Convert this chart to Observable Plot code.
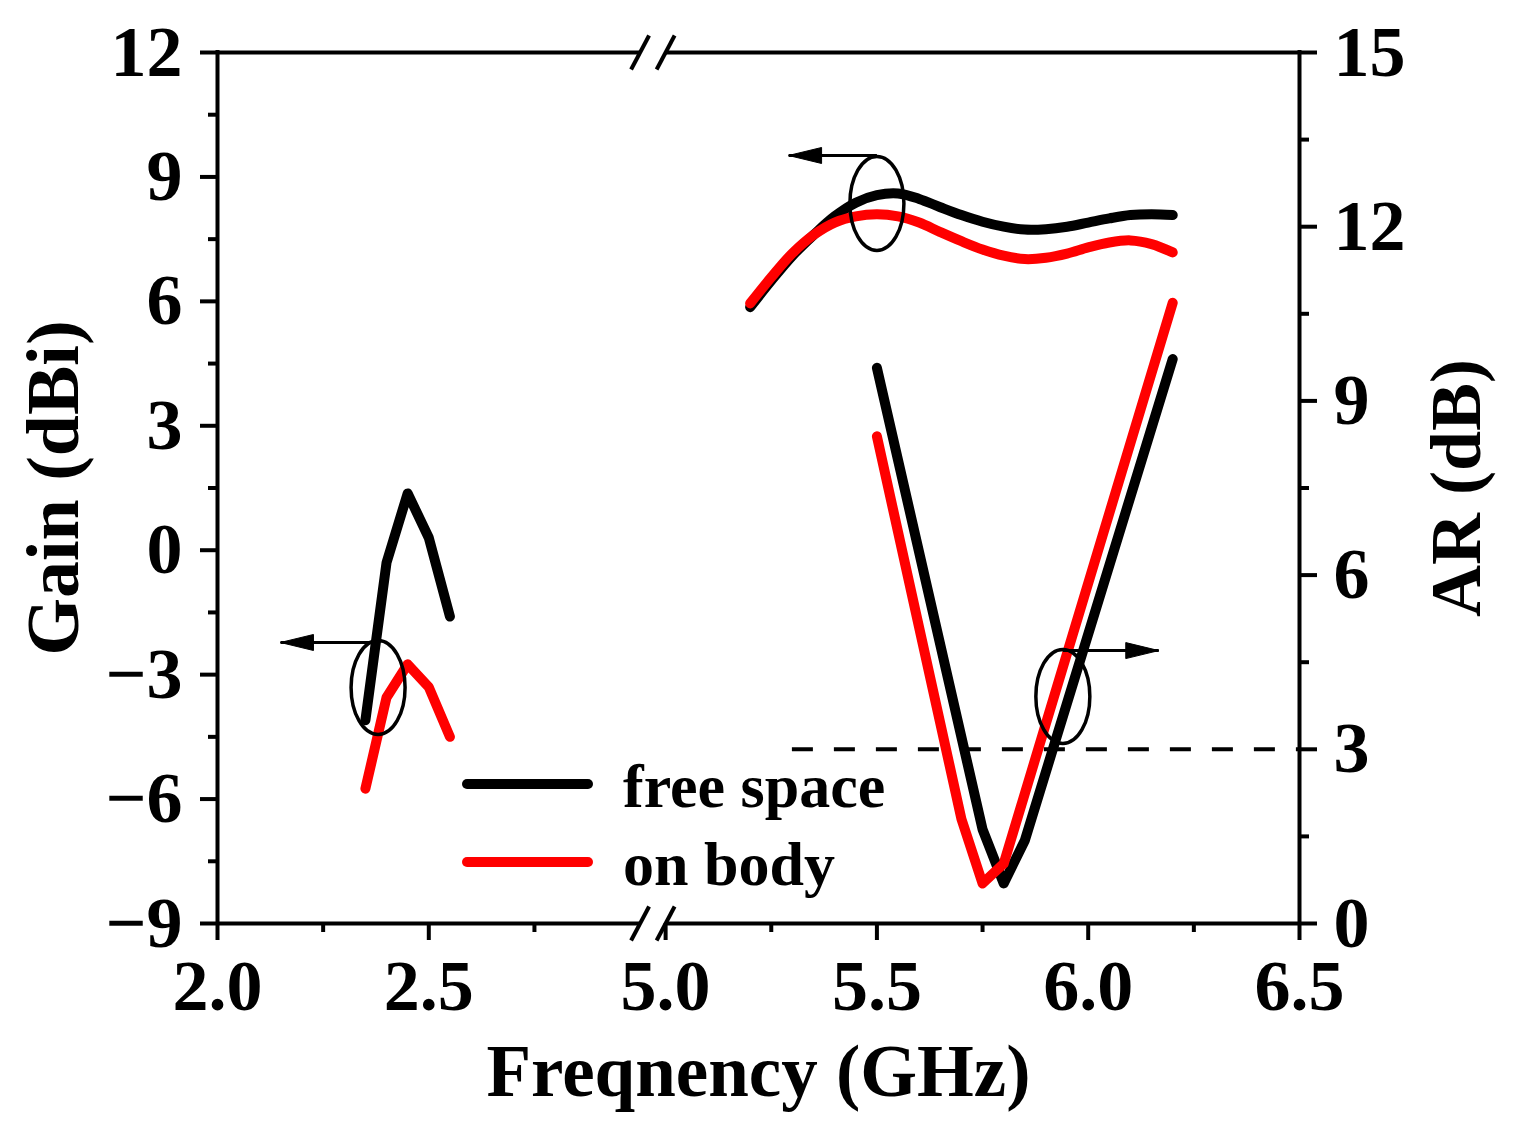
<!DOCTYPE html>
<html><head><meta charset="utf-8">
<script src="https://cdn.jsdelivr.net/npm/d3@7"></script>
<script src="https://cdn.jsdelivr.net/npm/@observablehq/plot@0.6"></script>
<style>
html,body{margin:0;padding:0;background:#fff;}
#chart{position:relative;width:1519px;height:1137px;}
</style></head><body><div id="chart"></div>
<script>
// ---- data ----
const seriesNames = ["free space", "on body"];
const seriesColors = ["#000000", "#ff0000"];

const freqLow = [2.35, 2.40, 2.45, 2.50, 2.55];
const gainFreeLow = [-4.1, -0.3, 1.37, 0.3, -1.6];
const gainBodyLow = [-5.75, -3.55, -2.75, -3.3, -4.5];

const freqHigh = [5.20, 5.25, 5.30, 5.35, 5.40, 5.45, 5.50, 5.55, 5.60, 5.65, 5.70, 5.75, 5.80, 5.85, 5.90, 5.95, 6.00, 6.05, 6.10, 6.15, 6.20];
const gainFreeHigh = [5.86, 6.5, 7.1, 7.6, 8.05, 8.38, 8.56, 8.6, 8.47, 8.27, 8.08, 7.92, 7.8, 7.73, 7.74, 7.8, 7.9, 8.0, 8.08, 8.1, 8.08];
const gainBodyHigh = [5.95, 6.58, 7.16, 7.6, 7.9, 8.05, 8.1, 8.05, 7.9, 7.67, 7.45, 7.25, 7.1, 7.02, 7.05, 7.15, 7.3, 7.42, 7.47, 7.38, 7.18];

const freqArFree = [5.50, 5.75, 5.80, 5.85, 6.20];
const arFree = [9.57, 1.62, 0.69, 1.43, 9.72];
const freqArBody = [5.50, 5.70, 5.75, 5.80, 6.20];
const arBody = [8.39, 1.80, 0.69, 1.03, 10.69];

const arThreshold = 3;
const thresholdFreq = [5.3, 6.5];

const xDomain = [2.0, 6.5];
const xBreak = [3.0, 5.0];
const xMajorTicks = [2.0, 2.5, 5.0, 5.5, 6.0, 6.5];
const xMinorTicks = [2.25, 2.75, 5.25, 5.75, 6.25];
const gainDomain = [-9, 12];
const gainMajorTicks = [-9, -6, -3, 0, 3, 6, 9, 12];
const gainMinorTicks = [-7.5, -4.5, -1.5, 1.5, 4.5, 7.5, 10.5];
const arDomain = [0, 15];
const arMajorTicks = [0, 3, 6, 9, 12, 15];
const arMinorTicks = [1.5, 4.5, 7.5, 10.5, 13.5];

// annotations (ellipse markers with arrows pointing to the relevant axis)
const ellipseFreq = [2.38, 5.50, 5.94];
const ellipseValue = [-3.31, 8.36, 3.91];
const ellipseAxis = ["gain", "gain", "ar"];
const arrowFromFreq = [2.38, 5.50, 5.94];
const arrowToFreq = [2.149, 5.291, 6.167];
const arrowValue = [-2.225, 9.517, 4.70];
const arrowAxis = ["gain", "gain", "ar"];

// ---- helpers ----
const breakGap = 0.0604; // visual gap between the two axis segments
const vx = f => f <= xBreak[0] + 1e-9 ? f : f - xBreak[1] + xBreak[0] + breakGap;
const ux = v => v <= xBreak[0] + 1e-9 ? v : v - xBreak[0] - breakGap + xBreak[1];
const arToGain = a => gainDomain[0] + (a - arDomain[0]) * (gainDomain[1] - gainDomain[0]) / (arDomain[1] - arDomain[0]);
const gainToAr = g => arDomain[0] + (g - gainDomain[0]) * (arDomain[1] - arDomain[0]) / (gainDomain[1] - gainDomain[0]);
const toY = (v, axis) => axis === "ar" ? arToGain(v) : v;
const fmtSigned = d => d < 0 ? "\u2212" + Math.abs(d) : String(d);

const lowFree = freqLow.map((f, i) => ({f, v: gainFreeLow[i]}));
const lowBody = freqLow.map((f, i) => ({f, v: gainBodyLow[i]}));
const highFree = freqHigh.map((f, i) => ({f, v: gainFreeHigh[i]}));
const highBody = freqHigh.map((f, i) => ({f, v: gainBodyHigh[i]}));
const arFreeData = freqArFree.map((f, i) => ({f, v: arToGain(arFree[i])}));
const arBodyData = freqArBody.map((f, i) => ({f, v: arToGain(arBody[i])}));

const ellipses = ellipseFreq.map((f, i) => ({f, v: toY(ellipseValue[i], ellipseAxis[i])}));
const arrows = arrowFromFreq.map((f, i) => ({f1: f, f2: arrowToFreq[i], v: toY(arrowValue[i], arrowAxis[i])}));

const xMin = vx(xDomain[0]), xMax = vx(xDomain[1]);
const frameH = [
  {y: gainDomain[0], x1: xMin, x2: vx(xBreak[0])},
  {y: gainDomain[0], x1: vx(xBreak[1]), x2: xMax},
  {y: gainDomain[1], x1: xMin, x2: vx(xBreak[0])},
  {y: gainDomain[1], x1: vx(xBreak[1]), x2: xMax}
];
const breakMarks = [];
for (const y of gainDomain) for (const b of xBreak) breakMarks.push({x: vx(b), y});

// custom symbols
const slashSymbol = {draw(ctx) { ctx.moveTo(-9, 17); ctx.lineTo(9, -17); }};
const ellipseSymbol = {draw(ctx) {
  const rx = 27, ry = 47, kx = rx * 0.5523, ky = ry * 0.5523;
  ctx.moveTo(rx, 0);
  ctx.bezierCurveTo(rx, ky, kx, ry, 0, ry);
  ctx.bezierCurveTo(-kx, ry, -rx, ky, -rx, 0);
  ctx.bezierCurveTo(-rx, -ky, -kx, -ry, 0, -ry);
  ctx.bezierCurveTo(kx, -ry, rx, -ky, rx, 0);
  ctx.closePath();
}};
const headRight = {draw(ctx) { ctx.moveTo(0, 0); ctx.lineTo(-33, -8); ctx.lineTo(-33, 8); ctx.closePath(); }};
const headLeft = {draw(ctx) { ctx.moveTo(0, 0); ctx.lineTo(33, -8); ctx.lineTo(33, 8); ctx.closePath(); }};

const font = '"Liberation Serif", "Times New Roman", serif';
const W = 1519, H = 1137;

const chart = Plot.plot({
  width: W, height: H,
  marginLeft: 217, marginRight: 220, marginTop: 52, marginBottom: 214,
  style: {fontFamily: font, fontWeight: "bold", fontSize: "72px", background: "white", color: "black", overflow: "visible"},
  x: {domain: [xMin, xMax]},
  y: {domain: gainDomain},
  marks: [
    // threshold line AR = 3 dB
    Plot.ruleY([arToGain(arThreshold)], {x1: vx(thresholdFreq[0]), x2: vx(thresholdFreq[1]), stroke: "black", strokeWidth: 4, strokeDasharray: "21,21"}),
    // data lines
    Plot.line(lowFree, {x: d => vx(d.f), y: "v", stroke: seriesColors[0], strokeWidth: 10, strokeLinecap: "round", strokeLinejoin: "round"}),
    Plot.line(highFree, {x: d => vx(d.f), y: "v", stroke: seriesColors[0], strokeWidth: 10, strokeLinecap: "round", strokeLinejoin: "round", curve: "catmull-rom"}),
    Plot.line(arFreeData, {x: d => vx(d.f), y: "v", stroke: seriesColors[0], strokeWidth: 10, strokeLinecap: "round", strokeLinejoin: "round"}),
    Plot.line(lowBody, {x: d => vx(d.f), y: "v", stroke: seriesColors[1], strokeWidth: 10, strokeLinecap: "round", strokeLinejoin: "round"}),
    Plot.line(highBody, {x: d => vx(d.f), y: "v", stroke: seriesColors[1], strokeWidth: 10, strokeLinecap: "round", strokeLinejoin: "round", curve: "catmull-rom"}),
    Plot.line(arBodyData, {x: d => vx(d.f), y: "v", stroke: seriesColors[1], strokeWidth: 10, strokeLinecap: "round", strokeLinejoin: "round"}),
    // annotations
    Plot.dot(ellipses, {x: d => vx(d.f), y: "v", symbol: ellipseSymbol, fill: "none", stroke: "black", strokeWidth: 3.5}),
    Plot.link(arrows, {x1: d => vx(d.f1), x2: d => vx(d.f2), y1: "v", y2: "v", stroke: "black", strokeWidth: 3}),
    Plot.dot(arrows.filter(d => d.f2 < d.f1), {x: d => vx(d.f2), y: "v", symbol: headLeft, fill: "black", stroke: "black", strokeWidth: 1}),
    Plot.dot(arrows.filter(d => d.f2 > d.f1), {x: d => vx(d.f2), y: "v", symbol: headRight, fill: "black", stroke: "black", strokeWidth: 1}),
    // frame
    Plot.ruleX([xMin, xMax], {stroke: "black", strokeWidth: 4, strokeLinecap: "square"}),
    Plot.ruleY(frameH, {y: "y", x1: "x1", x2: "x2", stroke: "black", strokeWidth: 4}),
    Plot.dot(breakMarks, {x: "x", y: "y", symbol: slashSymbol, fill: "none", stroke: "black", strokeWidth: 4}),
    // axes
    Plot.axisY({anchor: "left", ticks: gainMajorTicks, tickSize: 17, tickPadding: 18, tickFormat: fmtSigned, strokeWidth: 4, fontSize: 72, fontWeight: "bold", fontFamily: font, label: null}),
    Plot.axisY({anchor: "left", ticks: gainMinorTicks, tickSize: 9, tickFormat: () => "", strokeWidth: 4, label: null}),
    Plot.axisY({anchor: "right", ticks: arMajorTicks.map(arToGain), tickSize: 17, tickPadding: 17, tickFormat: y => String(Math.round(gainToAr(y))), strokeWidth: 4, fontSize: 72, fontWeight: "bold", fontFamily: font, label: null}),
    Plot.axisY({anchor: "right", ticks: arMinorTicks.map(arToGain), tickSize: 9, tickFormat: () => "", strokeWidth: 4, label: null}),
    Plot.axisX({anchor: "bottom", ticks: xMajorTicks.map(vx), tickSize: 17, tickPadding: 18, tickFormat: v => ux(v).toFixed(1), strokeWidth: 4, fontSize: 72, fontWeight: "bold", fontFamily: font, label: null}),
    Plot.axisX({anchor: "bottom", ticks: xMinorTicks.map(vx), tickSize: 9, tickFormat: () => "", strokeWidth: 4, label: null}),
    // axis titles
    Plot.text(["Freqnency (GHz)"], {text: d => d, frameAnchor: "bottom", textAnchor: "middle", dy: 172, fontSize: 73, fontWeight: "bold", fontFamily: font}),
    Plot.text(["Gain (dBi)"], {text: d => d, frameAnchor: "left", textAnchor: "middle", dx: -163, rotate: -90, fontSize: 74, fontWeight: "bold", fontFamily: font}),
    Plot.text(["AR (dB)"], {text: d => d, frameAnchor: "right", textAnchor: "middle", dx: 157, rotate: -90, fontSize: 72, fontWeight: "bold", fontFamily: font})
  ]
});
document.getElementById("chart").appendChild(chart);

// legend inside the plot area
const svg = d3.select(chart);
const lg = svg.append("g").attr("font-family", font).attr("font-weight", "bold").attr("font-size", 62).attr("text-anchor", "start");
seriesNames.forEach((name, i) => {
  const y = 784 + i * 78;
  lg.append("line").attr("x1", 467).attr("x2", 588).attr("y1", y).attr("y2", y)
    .attr("stroke", seriesColors[i]).attr("stroke-width", 10).attr("stroke-linecap", "round");
  lg.append("text").attr("x", 623).attr("y", y + 23).attr("fill", "black").attr("text-anchor", "start").text(name);
});
</script></body></html>
